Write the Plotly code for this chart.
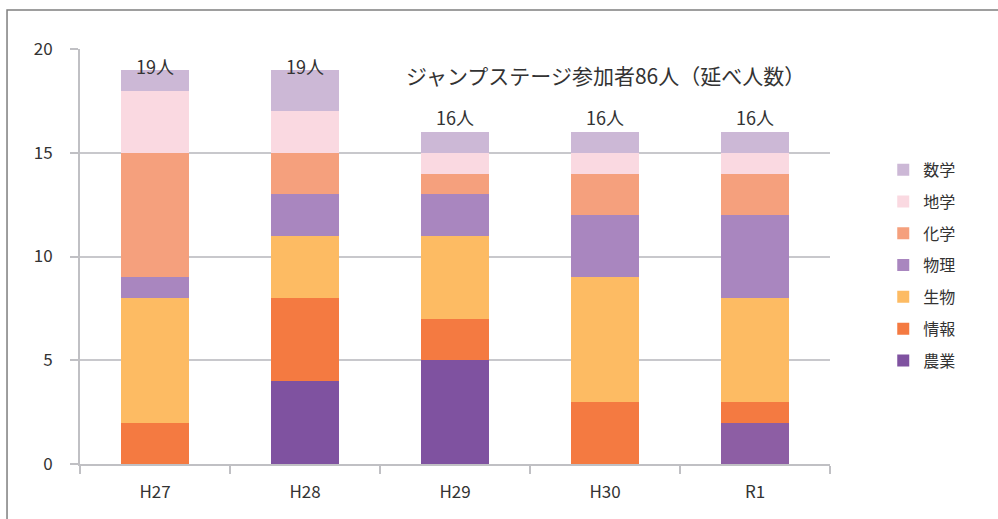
import plotly.graph_objects as go

categories = ["H27", "H28", "H29", "H30", "R1"]
nougyou = [0, 4, 5, 0, 2]
jouhou = [2, 4, 2, 3, 1]
seibutsu = [6, 3, 4, 6, 5]
butsuri = [1, 2, 2, 3, 4]
kagaku = [6, 2, 1, 2, 2]
chigaku = [3, 2, 1, 1, 1]
suugaku = [1, 2, 1, 1, 1]

series = [
    ("農業", nougyou, ["#7f52a0", "#7f52a0", "#7f52a0", "#7f52a0", "#8d5ea4"]),
    ("情報", jouhou, "#f47a41"),
    ("生物", seibutsu, "#fdbb63"),
    ("物理", butsuri, "#a986bf"),
    ("化学", kagaku, "#f5a07d"),
    ("地学", chigaku, "#fad9e1"),
    ("数学", suugaku, "#ccb8d6"),
]
title_text = "ジャンプステージ参加者86人（延べ人数）"

FONT = "Noto Sans CJK JP"
TXT = "#333333"
fig = go.Figure()
for i, (name, vals, col) in enumerate(series):
    fig.add_trace(go.Bar(
        x=categories, y=vals, name=name, marker=dict(color=col, line=dict(width=0)),
        legendgroup=str(i), legendrank=100 - i,
    ))

totals = [sum(v) for v in zip(*[s[1] for s in series])]
for c, t in zip(categories, totals):
    ypos = min(t + 0.72, 19.2)
    fig.add_annotation(x=c, y=ypos, text=f"{t}人", showarrow=False,
                       font=dict(size=18, color=TXT, family=FONT), yanchor="middle")

fig.add_annotation(x=3, y=18.75, text=title_text, showarrow=False,
                   font=dict(size=21, color=TXT, family=FONT), yanchor="middle")

fig.add_shape(type="rect", xref="paper", yref="paper", x0=-0.0973, x1=1.25, y0=-0.2, y1=1.094,
              line=dict(color="#7f7f7f", width=1.5), fillcolor="rgba(0,0,0,0)", layer="below")

fig.update_layout(
    width=998, height=519,
    margin=dict(l=80, r=168, t=49, b=55),
    barmode="stack", bargap=0.55,
    plot_bgcolor="white", paper_bgcolor="white",
    font=dict(family=FONT, size=17, color=TXT),
    legend=dict(traceorder="grouped", x=1.071, y=0.75, xanchor="left", yanchor="top",
                font=dict(size=16, family=FONT, color=TXT), tracegroupgap=8,
                itemwidth=30),
    showlegend=True,
)
fig.update_xaxes(showline=True, linecolor="#c0c0c4", linewidth=2, ticks="outside",
                 tickson="boundaries", ticklen=8, tickcolor="#c0c0c4", tickwidth=2,
                 showgrid=False, tickfont=dict(size=17), ticklabelstandoff=12)
fig.update_yaxes(range=[0, 20], dtick=5, showline=True, linecolor="#c0c0c4", linewidth=2,
                 ticks="outside", ticklen=8, tickcolor="#c0c0c4", tickwidth=2,
                 showgrid=True, gridcolor="#c8c8cc", gridwidth=1.5, zeroline=False,
                 tickfont=dict(size=17), ticklabelstandoff=14)

fig.write_html("out.html", post_script="document.body.style.margin='0';",
               config={"displayModeBar": False})
